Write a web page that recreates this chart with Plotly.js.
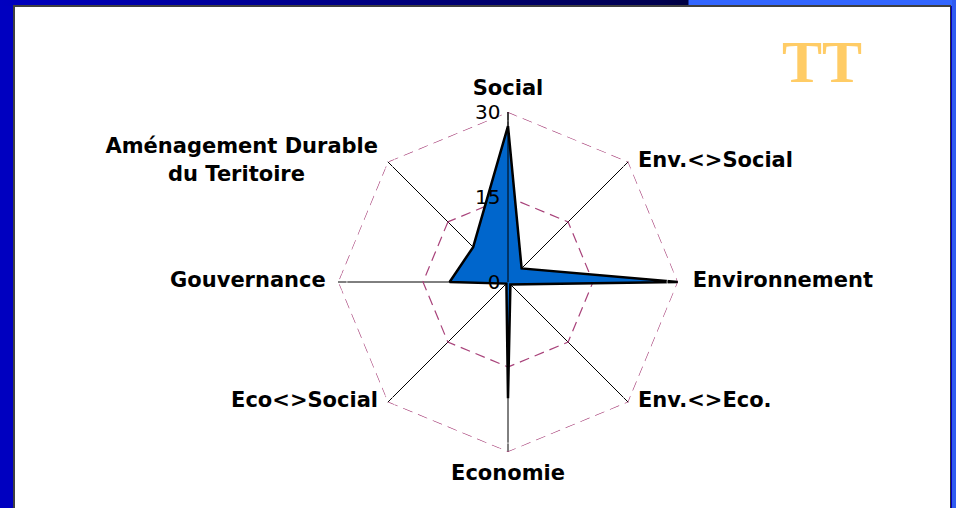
<!DOCTYPE html>
<html>
<head>
<meta charset="utf-8">
<script src="https://cdn.plot.ly/plotly-3.0.1.min.js"></script>
<style>
  body { margin: 0; width: 956px; height: 508px; overflow: hidden; background: #0000c0; position: relative; }
  .topband { position: absolute; left: 0; top: 0; width: 956px; height: 6px;
    background: linear-gradient(to right, #0000c0 0px, #000050 660px, #000040 688px, #3366ff 689px, #3366ff 956px); }
  .rightband { position: absolute; left: 952px; top: 0; width: 4px; height: 508px; background: #2f5cf0; }
  .panel { position: absolute; left: 13px; top: 5px; width: 938px; height: 503px; background: #fff;
    border-left: 2px solid #404040; border-top: 2px solid #404040; border-right: 1px solid #303030; box-sizing: border-box; }
  #chart { position: absolute; left: 0; top: 0; width: 956px; height: 508px; }
</style>
</head>
<body>
<div class="topband"></div>
<div class="rightband"></div>
<div class="panel"></div>
<div id="chart"></div>
<script>
// axes du radar, dans le sens horaire depuis le haut
const categories = ['Social', 'Env.<>Social', 'Environnement', 'Env.<>Eco.', 'Economie',
                    'Eco<>Social', 'Gouvernance', 'Aménagement Durable du Teritoire'];
// libellés affichés (2e ligne centrée à la main avec des espaces insécables)
const categoryLabels = ['Social', 'Env.&lt;&gt;Social', 'Environnement', 'Env.&lt;&gt;Eco.', 'Economie',
                        'Eco&lt;&gt;Social', 'Gouvernance',
                        'Aménagement Durable<br>du Teritoire' + '&nbsp;'.repeat(10)];
const scores = [27.5, 3.4, 30, 0.6, 20.5, 0.4, 10.3, 8.7];
const radialTicks = [0, 15, 30];
const chartTitle = 'TT';

const rMax = radialTicks[radialTicks.length - 1];
const gridColor = '#a8427a';
const gridDash = '10px,6px';

// contour extérieur (Plotly ne trace pas la grille au bord du domaine)
const outer = {
    type: 'scatterpolar',
    r: categories.map(() => rMax).concat([rMax]),
    theta: categories.concat([categories[0]]),
    mode: 'lines',
    line: { color: gridColor, width: 1.2, dash: gridDash },
    cliponaxis: false,
    hoverinfo: 'skip'
};

const series = {
    type: 'scatterpolar',
    r: scores.concat([scores[0]]),
    theta: categories.concat([categories[0]]),
    mode: 'lines',
    fill: 'toself',
    fillcolor: '#0066cc',
    line: { color: '#000000', width: 2.5 },
    hoverinfo: 'skip'
};

// libellés des axes posés au bout de chaque rayon
const labels = {
    type: 'scatterpolar',
    r: categories.map(() => rMax),
    theta: categories,
    mode: 'markers+text',
    text: categoryLabels,
    textposition: ['top center', 'middle right', 'middle right', 'middle right',
                   'bottom center', 'middle left', 'middle left', 'middle left'],
    marker: { size: [18, 14, 22, 14, 18, 14, 18, 14], color: 'rgba(0,0,0,0)' },
    textfont: { family: 'DejaVu Sans', size: 21, color: '#000', weight: 'bold' },
    cliponaxis: false,
    hoverinfo: 'skip'
};

const layout = {
    width: 956, height: 508,
    margin: { l: 0, r: 0, t: 0, b: 0 },
    paper_bgcolor: 'rgba(0,0,0,0)',
    showlegend: false,
    polar: {
        domain: { x: [338 / 956, 678 / 956], y: [56 / 508, 396 / 508] },
        bgcolor: 'rgba(0,0,0,0)',
        gridshape: 'linear',
        angularaxis: {
            rotation: 90,
            direction: 'clockwise',
            categoryarray: categories,
            showline: false,
            gridcolor: '#000000',
            gridwidth: 1,
            ticks: '',
            showticklabels: false
        },
        radialaxis: {
            range: [0, rMax],
            angle: 90,
            side: 'counterclockwise',
            tickangle: 90,
            tickvals: radialTicks,
            ticks: '',
            showline: true,
            linecolor: '#000000',
            linewidth: 1,
            gridcolor: gridColor,
            griddash: gridDash,
            gridwidth: 1.2,
            tickfont: { family: 'DejaVu Sans', size: 20, color: '#000' }
        }
    },
    annotations: [{
        text: chartTitle, xref: 'paper', yref: 'paper', x: 822 / 956, y: 1 - 62 / 508,
        showarrow: false, xanchor: 'center', yanchor: 'middle',
        font: { family: 'Times New Roman, Liberation Serif', size: 60, color: '#ffcc66', weight: 'bold' }
    }]
};

Plotly.newPlot('chart', [outer, series, labels], layout, { displayModeBar: false, staticPlot: true });
</script>
</body>
</html>
